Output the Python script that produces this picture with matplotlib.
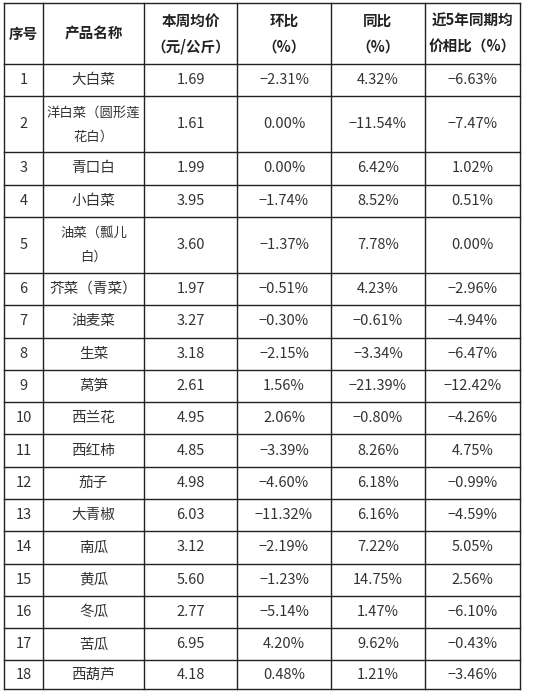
import matplotlib
matplotlib.use("Agg")
import matplotlib.pyplot as plt

plt.rcParams["font.family"] = ["Noto Sans CJK SC", "DejaVu Sans"]

HEADERS = ["序号", "产品名称", "本周均价\n（元/公斤）", "环比\n（%）", "同比\n（%）", "近5年同期均\n价相比（%）"]
NAMES = ["大白菜", "洋白菜（圆形莲\n花白）", "青口白", "小白菜", "油菜（瓢儿\n白）", "芥菜（青菜）",
         "油麦菜", "生菜", "莴笋", "西兰花", "西红柿", "茄子", "大青椒", "南瓜", "黄瓜", "冬瓜",
         "苦瓜", "西葫芦"]
PRICE = ["1.69", "1.61", "1.99", "3.95", "3.60", "1.97", "3.27", "3.18", "2.61", "4.95", "4.85",
         "4.98", "6.03", "3.12", "5.60", "2.77", "6.95", "4.18"]
MOM = ["-2.31%", "0.00%", "0.00%", "-1.74%", "-1.37%", "-0.51%", "-0.30%", "-2.15%", "1.56%",
       "2.06%", "-3.39%", "-4.60%", "-11.32%", "-2.19%", "-1.23%", "-5.14%", "4.20%", "0.48%"]
YOY = ["4.32%", "-11.54%", "6.42%", "8.52%", "7.78%", "4.23%", "-0.61%", "-3.34%", "-21.39%",
       "-0.80%", "8.26%", "6.18%", "6.16%", "7.22%", "14.75%", "1.47%", "9.62%", "1.21%"]
AVG5 = ["-6.63%", "-7.47%", "1.02%", "0.51%", "0.00%", "-2.96%", "-4.94%", "-6.47%", "-12.42%",
        "-4.26%", "4.75%", "-0.99%", "-4.59%", "5.05%", "2.56%", "-6.10%", "-0.43%", "-3.46%"]

COL_X = [4, 43, 144, 237, 331, 425, 520]


def main():
    fig = plt.figure(figsize=(5.36, 6.91), dpi=100)
    ax = fig.add_axes([0, 0, 1, 1])
    ax.set_xlim(0, 536); ax.set_ylim(691, 0); ax.axis("off")

    heights = [61] + [56 if "\n" in n else 32.3 for n in NAMES]
    ys = [3]
    for h in heights:
        ys.append(ys[-1] + h)
    ys[-1] = 689

    lc = "#222222"
    for y in ys:
        ax.plot([COL_X[0], COL_X[-1]], [y, y], color=lc, lw=1)
    for x in COL_X:
        ax.plot([x, x], [ys[0], ys[-1]], color=lc, lw=1)

    cx = [(COL_X[i] + COL_X[i + 1]) / 2 for i in range(6)]
    for i, h in enumerate(HEADERS):
        ax.text(cx[i], (ys[0] + ys[1]) / 2, h, ha="center", va="center", fontsize=10.5,
                weight="bold", color="#222", linespacing=1.7)
    for r in range(len(NAMES)):
        yc = (ys[r + 1] + ys[r + 2]) / 2
        row = [str(r + 1), NAMES[r], PRICE[r], MOM[r].replace("-", "−"),
               YOY[r].replace("-", "−"), AVG5[r].replace("-", "−")]
        for i, t in enumerate(row):
            fs = 9.6 if (i == 1 and len(t) > 7) else 10.5
            ax.text(cx[i], yc, t, ha="center", va="center", fontsize=fs, weight="light",
                    color="#333", linespacing=1.9)

    fig.savefig("out.png", dpi=100)
    plt.close(fig)


if __name__ == "__main__":
    main()
